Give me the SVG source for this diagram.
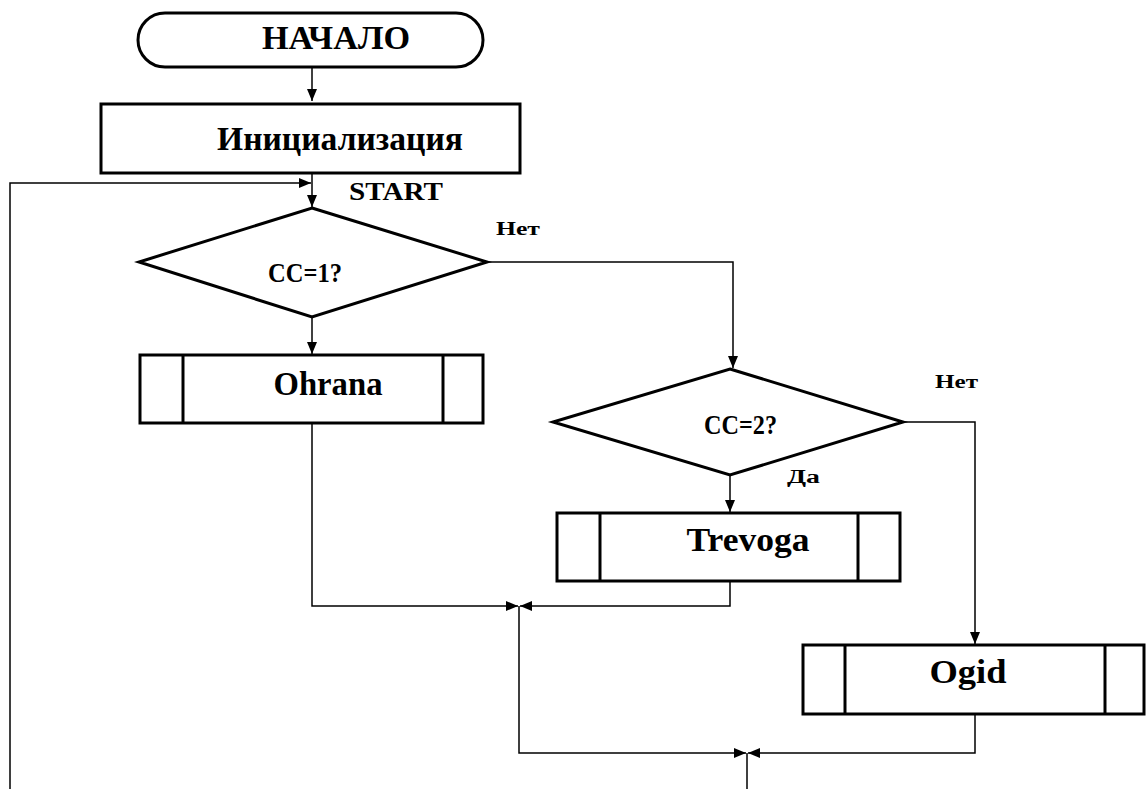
<svg xmlns="http://www.w3.org/2000/svg" width="1146" height="789" viewBox="0 0 1146 789">
  <defs>
    <marker id="arrow" viewBox="0 0 12 10" refX="12" refY="5" markerWidth="12" markerHeight="10" markerUnits="userSpaceOnUse" orient="auto">
      <path d="M0,0 L12,5 L0,10 Z" fill="#000"/>
    </marker>
    <style>
      .shape { fill: #fff; stroke: #000; stroke-width: 3; }
      .bar { stroke: #000; stroke-width: 3; }
      .link { fill: none; stroke: #000; stroke-width: 1.5; }
      text { font-family: "Liberation Serif", "Times New Roman", serif; font-weight: bold; fill: #000; }
      .big { font-size: 33px; text-anchor: middle; }
      .cond { font-size: 27px; }
      .mid { font-size: 26px; }
      .small { font-size: 18px; }
    </style>
  </defs>
  <rect width="1146" height="789" fill="#fff"/>

  <!-- connectors -->
  <g id="connectors">
    <path class="link" d="M312,67 V101" marker-end="url(#arrow)"/>
    <path class="link" d="M312,173 V207" marker-end="url(#arrow)"/>
    <path class="link" d="M10,789 V183 H311" marker-end="url(#arrow)"/>
    <path class="link" d="M312,317 V354" marker-end="url(#arrow)"/>
    <path class="link" d="M487,262 H733 V368" marker-end="url(#arrow)"/>
    <path class="link" d="M730,475 V512" marker-end="url(#arrow)"/>
    <path class="link" d="M903,422 H975 V644" marker-end="url(#arrow)"/>
    <path class="link" d="M312,423 V606 H518" marker-end="url(#arrow)"/>
    <path class="link" d="M730,581 V606 H520" marker-end="url(#arrow)"/>
    <path class="link" d="M519,606 V753 H746" marker-end="url(#arrow)"/>
    <path class="link" d="M975,714 V753 H748" marker-end="url(#arrow)"/>
    <path class="link" d="M747,753 V789"/>
  </g>

  <!-- start terminator -->
  <g id="start">
    <rect class="shape" x="138" y="13" width="345" height="54" rx="27" ry="27"/>
    <text class="big" x="336" y="49" textLength="148" lengthAdjust="spacingAndGlyphs">НАЧАЛО</text>
  </g>

  <!-- initialisation block -->
  <g id="init">
    <rect class="shape" x="101" y="104" width="419" height="69"/>
    <text class="big" x="340" y="150" textLength="246" lengthAdjust="spacingAndGlyphs">Инициализация</text>
  </g>

  <text id="start-label" class="mid" x="349" y="200" textLength="94" lengthAdjust="spacingAndGlyphs">START</text>

  <!-- first decision -->
  <g id="cond1">
    <polygon class="shape" points="312,208 487,262 312,317 139,262"/>
    <text class="cond" x="268" y="282" textLength="74" lengthAdjust="spacingAndGlyphs">CC=1?</text>
  </g>
  <text id="no1" class="small" x="496" y="235" textLength="44" lengthAdjust="spacingAndGlyphs">Нет</text>

  <!-- Ohrana subroutine -->
  <g id="ohrana">
    <rect class="shape" x="140" y="355" width="343" height="68"/>
    <line class="bar" x1="183" y1="355" x2="183" y2="423"/>
    <line class="bar" x1="443" y1="355" x2="443" y2="423"/>
    <text class="big" x="328" y="395" textLength="109" lengthAdjust="spacingAndGlyphs">Ohrana</text>
  </g>

  <!-- second decision -->
  <g id="cond2">
    <polygon class="shape" points="730,369 903,422 730,475 553,422"/>
    <text class="cond" x="704" y="434" textLength="73" lengthAdjust="spacingAndGlyphs">CC=2?</text>
  </g>
  <text id="no2" class="small" x="935" y="388" textLength="43" lengthAdjust="spacingAndGlyphs">Нет</text>
  <text id="yes2" class="small" x="787" y="483" textLength="33" lengthAdjust="spacingAndGlyphs">Да</text>

  <!-- Trevoga subroutine -->
  <g id="trevoga">
    <rect class="shape" x="557" y="513" width="343" height="68"/>
    <line class="bar" x1="600" y1="513" x2="600" y2="581"/>
    <line class="bar" x1="858" y1="513" x2="858" y2="581"/>
    <text class="big" x="748" y="551" textLength="123" lengthAdjust="spacingAndGlyphs">Trevoga</text>
  </g>

  <!-- Ogid subroutine -->
  <g id="ogid">
    <rect class="shape" x="803" y="645" width="341" height="69"/>
    <line class="bar" x1="845" y1="645" x2="845" y2="714"/>
    <line class="bar" x1="1105" y1="645" x2="1105" y2="714"/>
    <text class="big" x="968" y="683" textLength="77" lengthAdjust="spacingAndGlyphs">Ogid</text>
  </g>
</svg>
